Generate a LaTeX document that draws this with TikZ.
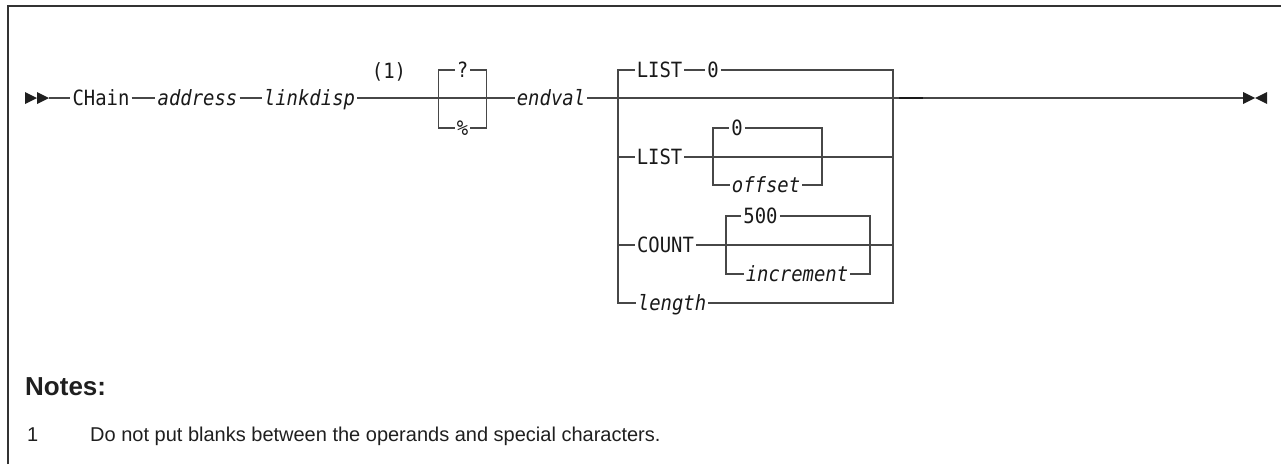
\documentclass[tikz,border=0pt]{standalone}
\usepackage{fontspec}
\setmainfont{Liberation Sans}
\newfontfamily\synfont[FakeStretch=0.9]{DejaVu Sans Mono}
\begin{document}
\begin{tikzpicture}[x=1pt,y=-1pt,
  syn/.style={inner xsep=2pt, inner ysep=0pt, text height=21pt, text depth=6pt,
    font=\synfont\fontsize{21}{24}\selectfont, text=black!90},
  var/.style={syn, font=\synfont\itshape\fontsize{21}{24}\selectfont},
  rail/.style={line width=1.2pt, draw=black!72},
  tipfill/.style={fill=black!88},
  frame/.style={line width=2pt, draw=black!80},
  notehead/.style={anchor=base west, inner sep=0pt, font=\bfseries\fontsize{26}{30}\selectfont, text=black!88},
  notetext/.style={anchor=base west, inner sep=0pt, font=\fontsize{20}{24}\selectfont, text=black!88}]
\useasboundingbox (0,0) rectangle (1281,464);
% frame
\draw[frame] (8,464) -- (8,6) -- (1281,6);
% coordinates
\coordinate (start) at (49,98);
\coordinate (endc) at (1243,98);
\coordinate (b1L) at (438.5,98);
\coordinate (b1R) at (486.5,98);
\coordinate (gL) at (618,98);
\coordinate (gR) at (893,98);
\coordinate (i1L) at (713,157);
\coordinate (i1R) at (822,157);
\coordinate (i2L) at (726,245);
\coordinate (i2R) at (870,245);
\coordinate (dashA) at (899,98);
\coordinate (dashB) at (923,98);
% markers
\fill[tipfill] (25,92) -- (37,98) -- (25,104) -- cycle;
\fill[tipfill] (37,92) -- (49,98) -- (37,104) -- cycle;
\fill[tipfill] (1243,92) -- (1255,98) -- (1243,104) -- cycle;
\fill[tipfill] (1267,92) -- (1255,98) -- (1267,104) -- cycle;
% nodes
\node[syn] (chain) at (101,98) {CHain};
\node[var] (addr) at (197.5,98) {address};
\node[var] (link) at (309.5,98) {linkdisp};
\node[syn] (fn) at (389,71) {(1)};
\node[syn] (q) at (462.5,70) {?};
\node[syn] (pct) at (462.5,128) {\%};
\node[var] (endval) at (551,98) {endval};
\node[syn] (list1) at (659.5,70) {LIST};
\node[syn] (zero1) at (713,70) {0};
\node[syn] (list2) at (659.5,157) {LIST};
\node[syn] (zero2) at (737,128) {0};
\node[var] (offset) at (766,185) {offset};
\node[syn] (count) at (665.5,245) {COUNT};
\node[syn] (five) at (760.5,216) {500};
\node[var] (incr) at (797,274) {increment};
\node[var] (length) at (672,303) {length};
% rails
\draw[rail] (start) -- (chain);
\draw[rail] (chain) -- (addr);
\draw[rail] (addr) -- (link);
\draw[rail] (link) -- (b1L) -- (b1R) -- (endval);
\draw[rail] (endval) -- (gL) -- (gR) -- (endc);
\draw[rail] (b1L) |- (q) -| (b1R);
\draw[rail] (b1L) |- (pct) -| (b1R);
\draw[rail] (gL) |- (list1);
\draw[rail] (list1) -- (zero1);
\draw[rail] (zero1) -| (gR);
\draw[rail] (gL) |- (list2);
\draw[rail] (list2) -- (i1L) -- (i1R) -- (gR |- i1R);
\draw[rail] (i1L) |- (zero2) -| (i1R);
\draw[rail] (i1L) |- (offset) -| (i1R);
\draw[rail] (gL) |- (count);
\draw[rail] (count) -- (i2L) -- (i2R) -- (gR |- i2R);
\draw[rail] (i2L) |- (five) -| (i2R);
\draw[rail] (i2L) |- (incr) -| (i2R);
\draw[rail] (gL) |- (length) -| (gR);
\draw[line width=2.2pt, draw=black!90] (dashA) -- (dashB);
% notes
\node[notehead] (notes) at (25,395) {Notes:};
\node[notetext] (n1) at (27,441) {1};
\node[notetext] (n1t) at (90,441) {Do not put blanks between the operands and special characters.};
\end{tikzpicture}
\end{document}
